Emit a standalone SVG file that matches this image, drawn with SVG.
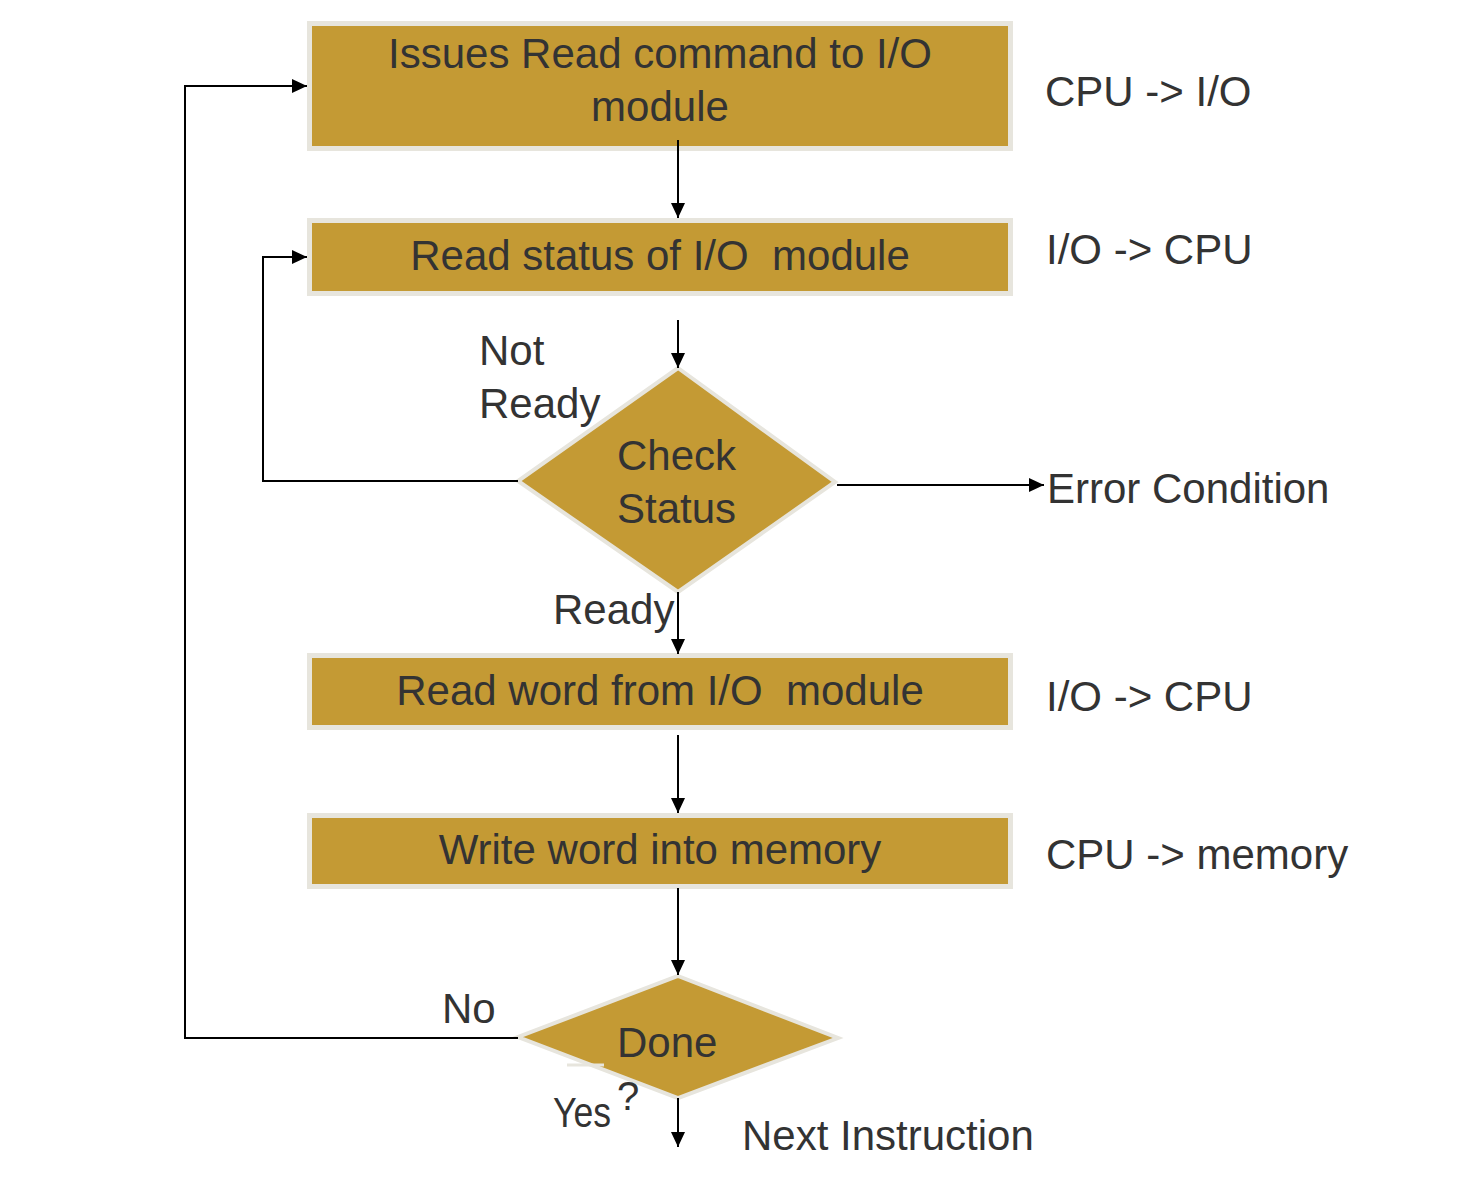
<svg xmlns="http://www.w3.org/2000/svg" width="1466" height="1186" viewBox="0 0 1466 1186">
<style>
.box{fill:#C49A34;stroke:#E7E5DD;stroke-width:5}
.dia{fill:#C49A34;stroke:#E7E5DD;stroke-width:4;stroke-linejoin:miter}
text{font-family:"Liberation Sans",Arial,sans-serif;font-size:42px;fill:#333333}
.c{text-anchor:middle}
.s{font-size:40px}
.ln{fill:none;stroke:#000;stroke-width:2}
</style>
<defs>
<marker id="ah" markerUnits="userSpaceOnUse" markerWidth="15" markerHeight="14" refX="15" refY="7" orient="auto">
<path d="M0,0 L15,7 L0,14 Z" fill="#000"/>
</marker>
</defs>
<rect width="1466" height="1186" fill="#fff"/>
<g id="n1">
<rect class="box" x="309.5" y="23.5" width="701" height="125"/>
<text class="c" x="660" y="68">Issues Read command to I/O</text>
<text class="c" x="660" y="121">module</text>
</g>
<g id="n2">
<rect class="box" x="309.5" y="220.5" width="701" height="73"/>
<text class="c" x="660" y="270" xml:space="preserve">Read status of I/O  module</text>
</g>
<g id="n3">
<path class="dia" d="M678,368 L835,482 L678,592 L518,481 Z"/>
<text x="617" y="470">Check</text>
<text x="617" y="523">Status</text>
</g>
<g id="n4">
<rect class="box" x="309.5" y="655.5" width="701" height="72"/>
<text class="c" x="660" y="705" xml:space="preserve">Read word from I/O  module</text>
</g>
<g id="n5">
<rect class="box" x="309.5" y="815.5" width="701" height="71"/>
<text class="c" x="660" y="864">Write word into memory</text>
</g>
<g id="n6">
<path class="dia" d="M678,976 L838,1038 L678,1098 L518,1037 Z"/>
<line x1="567" y1="1065" x2="604" y2="1065" stroke="#E7E5DD" stroke-width="3"/>
<text x="617" y="1057">Done</text>
</g>
<g id="connectors">
<line class="ln" x1="678" y1="140" x2="678" y2="218" marker-end="url(#ah)"/>
<line class="ln" x1="678" y1="320" x2="678" y2="368" marker-end="url(#ah)"/>
<polyline class="ln" points="518,481 263,481 263,257 307,257" marker-end="url(#ah)"/>
<line class="ln" x1="837" y1="485" x2="1044" y2="485" marker-end="url(#ah)"/>
<line class="ln" x1="678" y1="592" x2="678" y2="654" marker-end="url(#ah)"/>
<line class="ln" x1="678" y1="735" x2="678" y2="813" marker-end="url(#ah)"/>
<line class="ln" x1="678" y1="888" x2="678" y2="975" marker-end="url(#ah)"/>
<polyline class="ln" points="518,1038 185,1038 185,86 307,86" marker-end="url(#ah)"/>
<line class="ln" x1="678" y1="1098" x2="678" y2="1147" marker-end="url(#ah)"/>
</g>
<g id="labels">
<text x="479" y="365">Not</text>
<text x="479" y="418">Ready</text>
<text x="553" y="624">Ready</text>
<text x="442" y="1023">No</text>
<text x="553" y="1127" textLength="58" lengthAdjust="spacingAndGlyphs">Yes</text>
<text class="s" x="617" y="1110">?</text>
<text x="742" y="1150">Next Instruction</text>
<text x="1045" y="106">CPU -&gt; I/O</text>
<text x="1046" y="264">I/O -&gt; CPU</text>
<text x="1047" y="503">Error Condition</text>
<text x="1046" y="711">I/O -&gt; CPU</text>
<text x="1046" y="869">CPU -&gt; memory</text>
</g>
</svg>
